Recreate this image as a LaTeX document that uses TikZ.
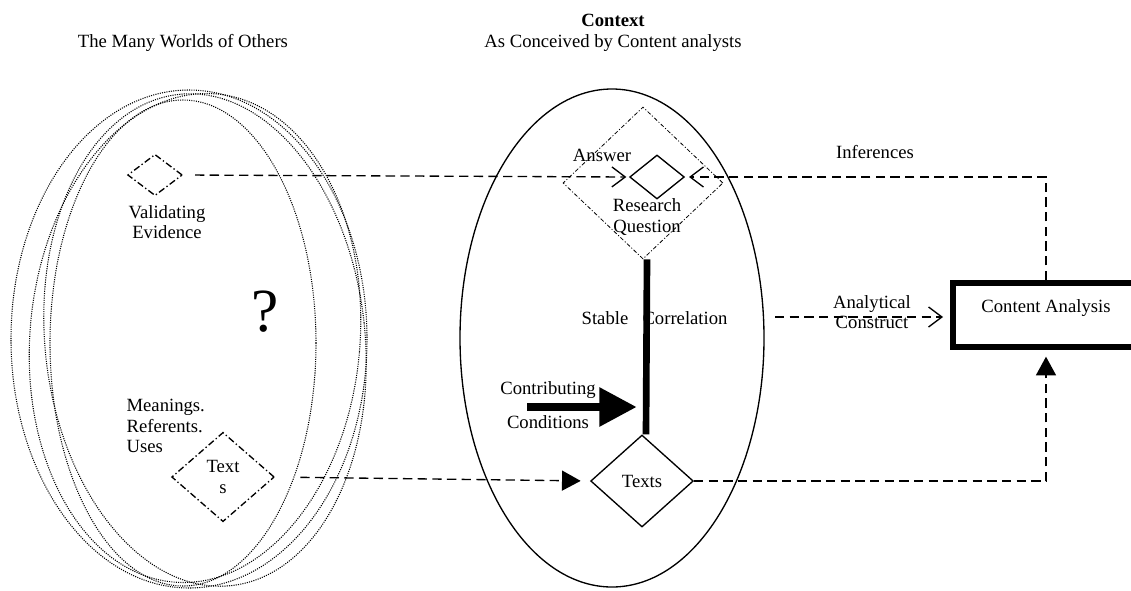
\documentclass[tikz,border=0pt]{standalone}
\usepackage{fontspec}
\setmainfont{Liberation Serif}
\usetikzlibrary{arrows.meta,shapes.geometric}
\tikzset{
	lbl/.style={font=\fontsize{14}{15.5}\selectfont, inner sep=1pt, align=center},
	dia/.style={diamond, draw, line width=1pt, inner sep=0pt, lbl},
	flow/.style={dash pattern=on 7pt off 4pt, line width=1pt},
	opentip/.style={-{Straight Barb[length=10pt,width=15pt,line width=1pt]}},
	filltip/.style={-{Triangle[length=14pt,width=15pt]}},
	world/.style={dash pattern=on 0.8pt off 0.9pt, line width=0.8pt}
}

\begin{document}
\begin{tikzpicture}[x=0.75pt, y=-0.75pt]
			%%%%% START %%%%%
			\useasboundingbox (0,0) rectangle (1131,590);
			
			% many worlds
			\draw[world] (189,339) ellipse (178 and 249);
			\draw[world] (183,343) ellipse (133 and 243);
			\draw[world, rotate around={6:(205,340)}] (205,340) ellipse (160 and 247);
			\draw[world, rotate around={-5:(195,338)}] (195,338) ellipse (165 and 245);
			
			% context
			\draw[line width=1pt] (612,338) ellipse (152 and 249);
			
			\node[lbl] (worlds) at (183,43) {The Many Worlds of Others};
			\node[lbl] (context) at (613,33) {\textbf{Context}\\As Conceived by Content analysts};
			
			\node[dia, dash pattern=on 5pt off 2pt on 1pt off 2pt, minimum width=41pt, minimum height=31pt] (valid) at (155,175) {};
			\node[lbl] (validtxt) at (167,222) {Validating\\Evidence};
			\node[lbl, font=\fontsize{46}{50}\selectfont] (qmark) at (265,312) {?};
			\node[lbl, anchor=west, align=left] (uses) at (125,426) {Meanings.\\Referents.\\Uses};
			\node[dia, dash pattern=on 5pt off 2pt on 1pt off 2pt, minimum width=77pt, minimum height=67pt] (srctexts) at (223,477) {Text\\s};
			
			\node[dia, line width=0.6pt, dash pattern=on 3pt off 1.5pt on 0.8pt off 1.5pt, minimum width=120pt, minimum height=114pt] (rq) at (643,183) {};
			\node[dia, minimum width=41pt, minimum height=33pt] (ans) at (657,177) {};
			\node[lbl] (answer) at (602,155) {Answer};
			\node[lbl] (rqtxt) at (647,217) {Research\\Question};
			
			\node[dia, minimum width=77pt, minimum height=69pt] (texts) at (642,481) {Texts};
			\node[lbl] (stable) at (605,318) {Stable};
			\node[lbl] (corr) at (685,318) {Correlation};
			\node[lbl] (contrib) at (548,405) {Contributing\\[10pt]Conditions};
			
			\node[lbl, draw, line width=4.5pt, minimum width=140pt, minimum height=48pt, text depth=13pt] (cabox) at (1046,315) {Content Analysis};
			\node[lbl] (infer) at (875,152) {Inferences};
			
			\coordinate (ccstart) at (527,407);
			\coordinate (acstart) at (775,317);
			
			% connectors
			\draw[flow, opentip, shorten <=9pt, shorten >=2pt] (valid.east) -- (ans.west);
			\draw[flow, opentip, shorten >=3pt] (cabox.north) |- (ans.east);
			\draw[line width=5pt] ([xshift=3pt]rq.south) -- ([xshift=3pt]texts.north);
			\draw[line width=6pt, -{Triangle[length=28pt,width=28pt]}, shorten >=4pt] (ccstart) -- (texts.north |- ccstart);
			\draw[flow, filltip, shorten <=19pt, shorten >=7pt] (srctexts.east) -- (texts.west);
			\draw[flow, filltip, shorten >=5pt] (texts.east) -| (cabox.south);
			\draw[flow, opentip, shorten >=5pt] (acstart) -- (cabox.west |- acstart);
			\node[lbl] (analytic) at (872,312) {Analytical\\Construct};
			
			%%%%% END %%%%%
\end{tikzpicture}
\end{document}
